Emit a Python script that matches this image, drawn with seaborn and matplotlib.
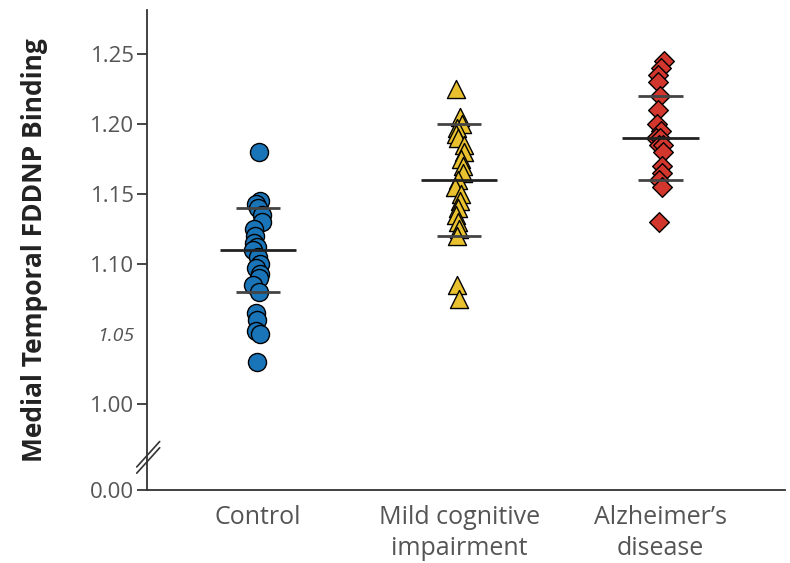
import numpy as np
import pandas as pd
import matplotlib
matplotlib.use("Agg")
import matplotlib.pyplot as plt
import seaborn as sns

groups = ["Control", "Mild cognitive\nimpairment", "Alzheimer\u2019s\ndisease"]

control = [1.18, 1.145, 1.143, 1.14, 1.135, 1.13, 1.125, 1.12, 1.115, 1.112,
           1.11, 1.105, 1.10, 1.097, 1.093, 1.09, 1.085, 1.08, 1.065, 1.06,
           1.052, 1.05, 1.03]
mci = [1.225, 1.205, 1.20, 1.197, 1.193, 1.19, 1.185, 1.18, 1.175, 1.17,
       1.165, 1.16, 1.155, 1.15, 1.145, 1.14, 1.135, 1.13, 1.125, 1.12,
       1.085, 1.075]
ad = [1.245, 1.24, 1.235, 1.23, 1.22, 1.21, 1.20, 1.195, 1.19, 1.19,
      1.185, 1.185, 1.18, 1.17, 1.165, 1.16, 1.155, 1.13]

means = [1.11, 1.16, 1.19]
sd_low = [1.08, 1.12, 1.16]
sd_high = [1.14, 1.20, 1.22]

ytick_vals = [1.00, 1.05, 1.10, 1.15, 1.20, 1.25]
zero_pos = 0.9386  # where "0.00" sits below the axis break

colors = ["#1a74b8", "#e9c12f", "#d2362c"]
markers = ["o", "^", "D"]
sizes = [13, 13, 10]

sns.set_style("ticks")
plt.rcParams["font.family"] = ["Open Sans", "DejaVu Sans"]

fig = plt.figure(figsize=(7.9, 5.63), dpi=100)
ax = fig.add_axes([0.186, 0.1297, 0.808, 0.8526])

np.random.seed(3)
for i, vals in enumerate([control, mci, ad]):
    df = pd.DataFrame({"group": groups[i], "value": vals})
    sns.stripplot(data=df, x="group", y="value", order=groups, ax=ax,
                  color=colors[i], marker=markers[i], size=sizes[i],
                  edgecolor="black", linewidth=1, jitter=0.025, zorder=3)

pos = np.arange(len(groups))
ax.hlines(means, pos - 0.19, pos + 0.19, color="#222222", lw=2, zorder=4)
ax.hlines(sd_low, pos - 0.11, pos + 0.11, color="#444444", lw=2, zorder=4)
ax.hlines(sd_high, pos - 0.11, pos + 0.11, color="#444444", lw=2, zorder=4)

ax.set_xlim(-0.552, 2.62)
ax.set_ylim(zero_pos, 1.2814)
ax.set_yticks([zero_pos] + ytick_vals)
ax.set_yticklabels(["0.00"] + [f"{v:.2f}" for v in ytick_vals])
ax.tick_params(axis="y", length=7, width=1.2, labelsize=16, labelcolor="#555555", pad=2)
ax.tick_params(axis="x", length=0, labelsize=18, labelcolor="#555555", pad=11)
for t in ax.get_yticklabels():
    if t.get_text() == "1.05":
        t.set_style("italic")
        t.set_fontsize(14)
for t in ax.get_xticklabels():
    t.set_linespacing(1.3)
ax.yaxis.get_major_ticks()[2].tick1line.set_visible(False)

ax.set_xlabel("")
ax.set_ylabel("Medial Temporal FDDNP Binding", fontsize=19, fontweight="bold",
              color="#222222")
ax.yaxis.set_label_coords(-0.155, 0.5)
sns.despine(ax=ax)
for s in ["left", "bottom"]:
    ax.spines[s].set_linewidth(1.3)
    ax.spines[s].set_color("#333333")

# axis break marks
for dy in [0.0, 0.013]:
    ax.plot([-0.016, 0.02], [0.035 + dy, 0.088 + dy], transform=ax.transAxes,
            color="#333333", lw=1.2, clip_on=False)

fig.savefig("out.png", dpi=100)
